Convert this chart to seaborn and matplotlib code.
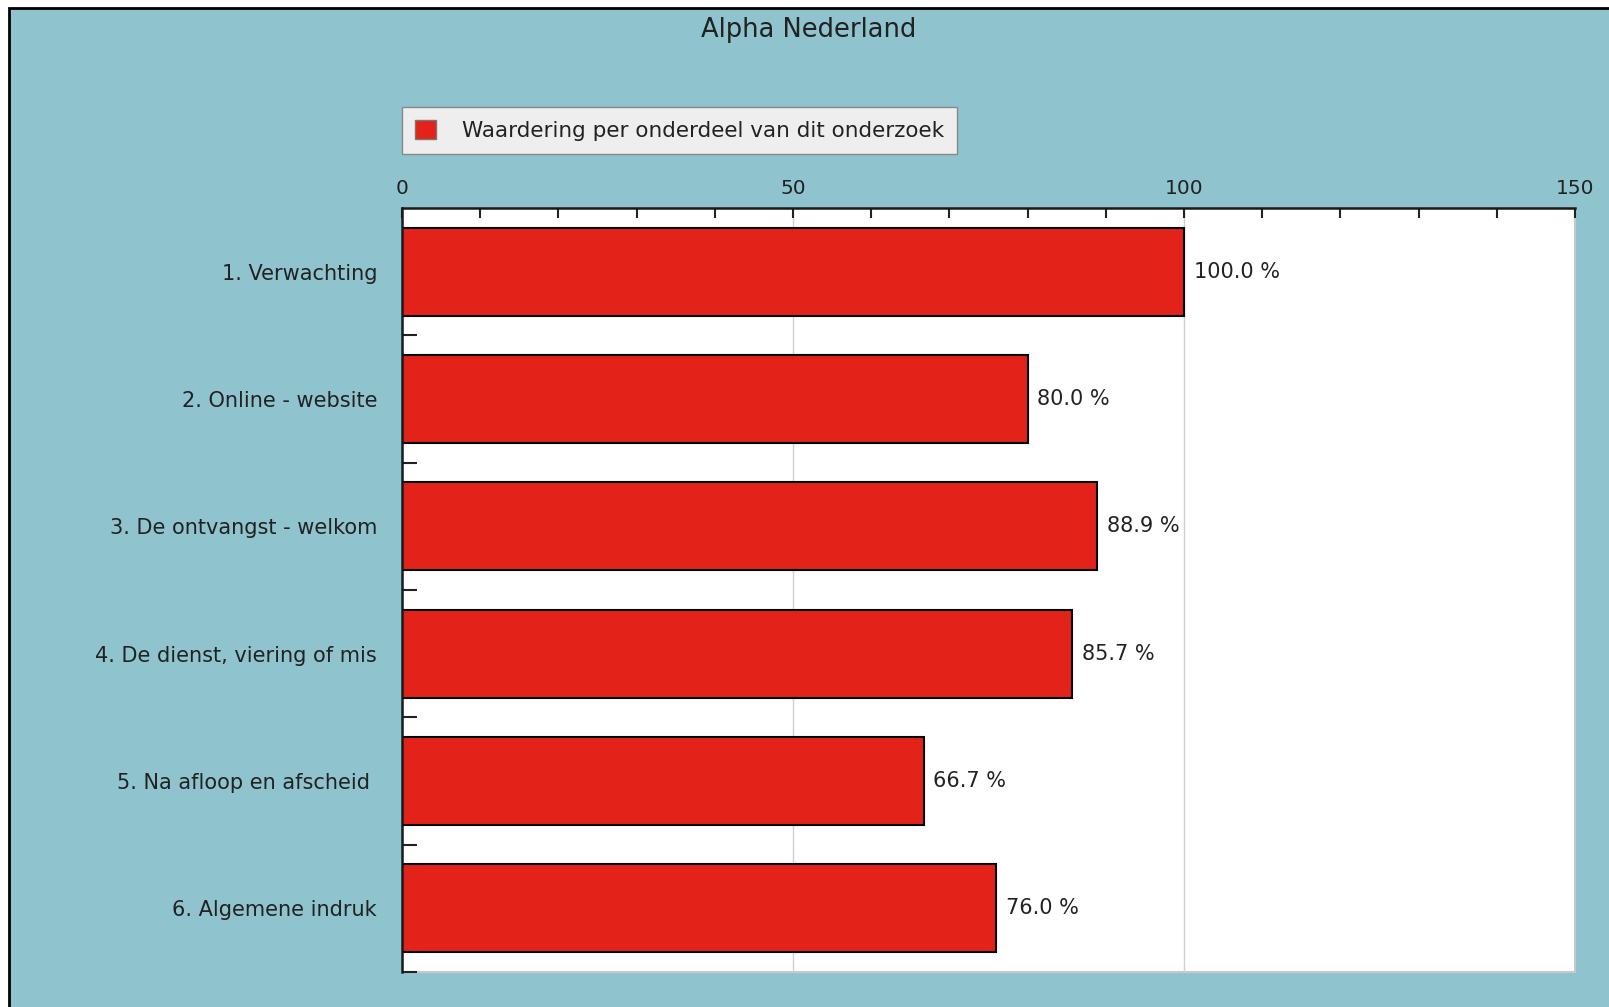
import matplotlib
matplotlib.use('Agg')
import matplotlib.pyplot as plt
from matplotlib.patches import Patch, Rectangle
import seaborn as sns
import pandas as pd
import numpy as np

# data
categories = ['1. Verwachting', '2. Online - website', '3. De ontvangst - welkom',
              '4. De dienst, viering of mis', '5. Na afloop en afscheid ', '6. Algemene indruk']
scores = [100.0, 80.0, 88.9, 85.7, 66.7, 76.0]
title = 'Alpha Nederland'
series_name = 'Waardering per onderdeel van dit onderzoek'

teal = '#8FC4CF'
red = '#E3231A'

sns.set_style('white')
plt.rcParams['font.family'] = ['DejaVu Sans']

W, H = 1609, 1007
fig = plt.figure(figsize=(W / 100, H / 100), dpi=100)
fig.patch.set_facecolor('white')
# teal panel with black border on top/left
fig.patches.append(Rectangle((8.5 / W, -0.05), 1.1, 1 - 7.5 / H + 0.05, transform=fig.transFigure,
                             facecolor=teal, edgecolor='black', linewidth=2, zorder=-5))

ax = fig.add_axes([402 / W, 1 - 972 / H, (1575 - 402) / W, (972 - 208) / H])
ax.set_facecolor('white')

df = pd.DataFrame({'onderdeel': categories, 'score': scores})
sns.barplot(data=df, x='score', y='onderdeel', orient='h', color=red, saturation=1,
            width=0.69, edgecolor='black', linewidth=1.5, ax=ax)

ax.bar_label(ax.containers[0], fmt='%.1f %%', padding=7, fontsize=15, color='#222222')

ax.set_xlim(0, 150)
ax.set_ylim(5.5, -0.5)
ax.xaxis.tick_top()
ax.set_xticks([0, 50, 100, 150])
ax.set_xticks(np.arange(0, 151, 10), minor=True)
ax.set_yticks(np.arange(0.5, 6, 1), minor=True)
ax.set_xlabel('')
ax.set_ylabel('')

ax.tick_params(axis='x', which='both', direction='in', length=7, width=1.5, color='#222222',
               labelsize=14.5, pad=7.5, top=True, bottom=False, labelcolor='#222222')
ax.tick_params(axis='y', which='major', length=0, labelsize=15, pad=18, labelcolor='#222222')
ax.tick_params(axis='y', which='minor', direction='in', length=11, width=1.5, color='#222222', left=True)

ax.set_axisbelow(True)
ax.grid(axis='x', which='major', color='#d0d0d0', linewidth=1)
ax.grid(axis='y', visible=False)

for s in ['top', 'left']:
    ax.spines[s].set_color('#1a1a1a')
    ax.spines[s].set_linewidth(1.8)
for s in ['right', 'bottom']:
    ax.spines[s].set_color('#c8c8c8')
    ax.spines[s].set_linewidth(1.5)
    ax.spines[s].set_visible(True)
    ax.spines[s].set_zorder(0.3)

fig.text(809 / W, 1 - 37 / H, title, ha='center', va='baseline', fontsize=18.5, color='#222222')

handle = Patch(facecolor=red, edgecolor='#777777', linewidth=1)
fig.legend([handle], [series_name], loc='upper left', bbox_to_anchor=(402 / W, 1 - 107 / H),
           borderaxespad=0, fancybox=False, framealpha=1, facecolor='#EEEEEE', edgecolor='#888888',
           fontsize=15.5, handlelength=1.0, handleheight=1.0, handletextpad=1.2, borderpad=0.6,
           labelcolor='#222222')

plt.savefig('out.png', dpi=100, facecolor=fig.get_facecolor())
